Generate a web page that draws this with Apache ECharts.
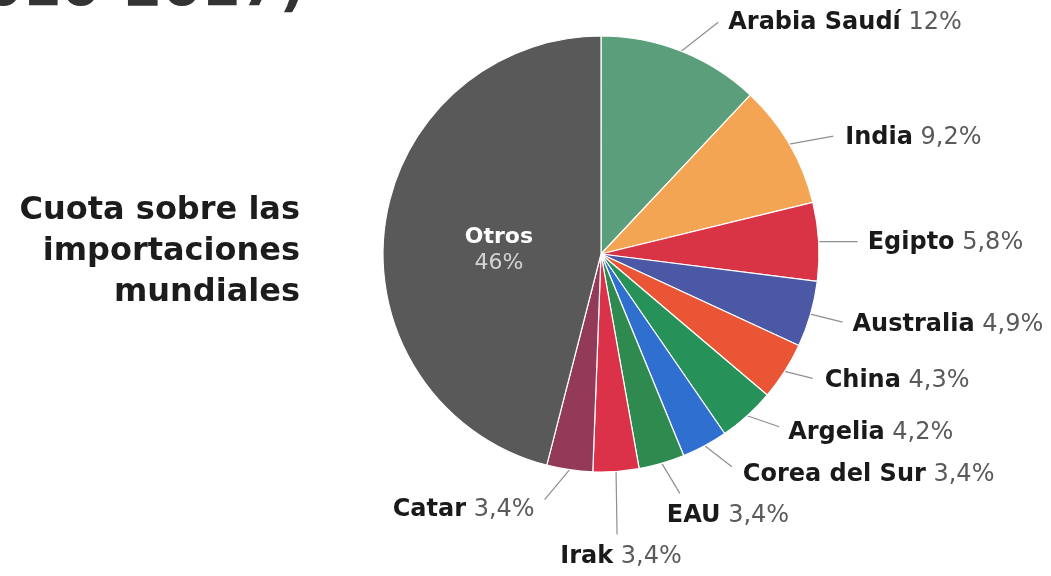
<!DOCTYPE html>
<html>
<head>
<meta charset="utf-8">
<script src="https://cdn.jsdelivr.net/npm/echarts@6/dist/echarts.min.js"></script>
<style>
html,body{margin:0;padding:0;background:#fff;}
#chart{width:1051px;height:576px;}
</style>
</head>
<body>
<div id="chart"></div>
<script>
// ---- Data ----
const countries = ['Arabia Saudí','India','Egipto','Australia','China','Argelia','Corea del Sur','EAU','Irak','Catar','Otros'];
const shares    = [12, 9.2, 5.8, 4.9, 4.3, 4.2, 3.4, 3.4, 3.4, 3.4, 46];
const titleLines = ['Cuota sobre las','importaciones','mundiales'];
const clippedHeading = '(2010-2017)';

// ---- Styles ----
const colors = ['#5b9e7c','#f3a553','#d93346','#4a58a6','#ea5535','#27915a','#2f6fcf','#2f8a4f','#dc3249','#923a58','#595959'];
// label line end offsets from slice edge, and label anchor offsets from line end
const lineStyleCfg = [
  {dx:37, dy:-29, lx:10, ly:0,  align:'left'},
  {dx:44, dy:-8,  lx:12, ly:2,  align:'left'},
  {dx:39, dy:0,   lx:10, ly:1,  align:'left'},
  {dx:32, dy:8,   lx:10, ly:3,  align:'left'},
  {dx:28, dy:7,   lx:12, ly:2,  align:'left'},
  {dx:32, dy:11,  lx:9,  ly:6,  align:'left'},
  {dx:27, dy:21,  lx:11, ly:8,  align:'left'},
  {dx:18, dy:30,  lx:-13,ly:22, align:'left'},
  {dx:1,  dy:63,  lx:4,  ly:22, align:'center'},
  {dx:-25,dy:30,  lx:-10,ly:10, align:'right'},
  null
];

const fmt = v => String(v).replace('.', ',');

const data = countries.map((name, i) => {
  const item = { name: name, value: shares[i], itemStyle: { color: colors[i] } };
  if (name === 'Otros') {
    item.label = {
      position: 'inside',
      formatter: p => '{on|' + p.name + '}\n{ov|' + fmt(p.value) + '%}',
      rich: {
        on: { fontFamily: 'DejaVu Sans', fontWeight: 'bold', fontSize: 22, color: '#ffffff', lineHeight: 26, align: 'center' },
        ov: { fontFamily: 'DejaVu Sans', fontSize: 22, color: '#d4d4d4', lineHeight: 26, align: 'center' }
      }
    };
    item.labelLine = { show: false };
  }
  return item;
});

const chart = echarts.init(document.getElementById('chart'), null, { renderer: 'canvas' });

chart.setOption({
  backgroundColor: '#ffffff',
  animation: false,
  graphic: [
    {
      type: 'text', right: 751, top: 190,
      style: {
        text: titleLines.join('\n'),
        font: 'bold 32px "DejaVu Sans"',
        fill: '#1c1c1c',
        textAlign: 'right',
        lineHeight: 41
      }
    },
    {
      type: 'text', x: 305, y: -10,
      style: {
        text: clippedHeading,
        font: 'bold 56px "DejaVu Sans"',
        fill: '#333333',
        textAlign: 'right',
        textVerticalAlign: 'middle'
      }
    }
  ],
  series: [{
    type: 'pie',
    center: [601, 254],
    radius: 218,
    startAngle: 90,
    clockwise: true,
    avoidLabelOverlap: false,
    itemStyle: { borderColor: '#ffffff', borderWidth: 1.2 },
    label: {
      show: true,
      position: 'outside',
      formatter: p => '{n|' + p.name + '}{v| ' + fmt(p.value) + '%}',
      rich: {
        n: { fontFamily: 'DejaVu Sans', fontWeight: 'bold', fontSize: 24, color: '#1a1a1a' },
        v: { fontFamily: 'DejaVu Sans', fontSize: 24, color: '#5a5a5a' }
      }
    },
    labelLine: { show: true, length: 20, length2: 5, lineStyle: { color: '#8f8f8f', width: 1.2 } },
    labelLayout: function (params) {
      const cfg = lineStyleCfg[params.dataIndex];
      if (!cfg) {
        return { dx: 9, dy: 10 };
      }
      const p0 = params.labelLinePoints[0];
      const end = [p0[0] + cfg.dx, p0[1] + cfg.dy];
      return {
        x: end[0] + cfg.lx,
        y: end[1] + cfg.ly,
        align: cfg.align,
        verticalAlign: 'middle',
        labelLinePoints: [p0, end, end]
      };
    },
    data: data
  }]
});
</script>
</body>
</html>
